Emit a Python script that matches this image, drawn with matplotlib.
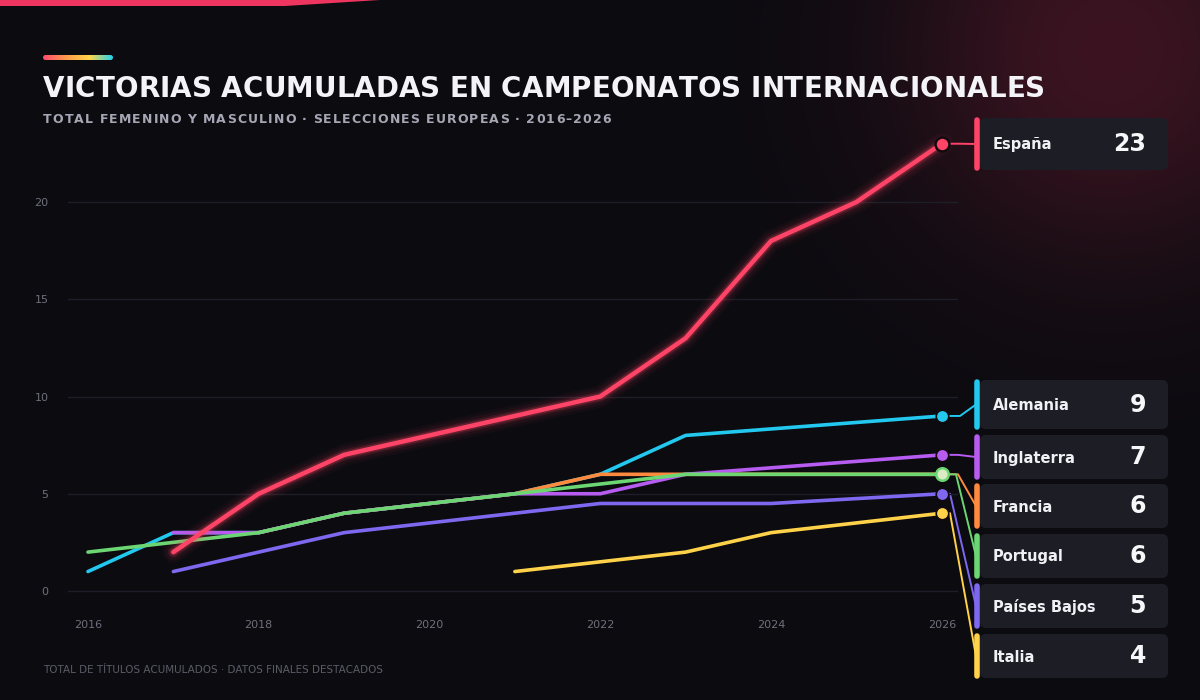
import numpy as np
import matplotlib
matplotlib.use("Agg")
import matplotlib.pyplot as plt
from matplotlib.patches import FancyBboxPatch, Polygon
from matplotlib.colors import LinearSegmentedColormap

nan = np.nan

# datos (valores acumulados por año, nan = sin dato)
years = [2016, 2017, 2018, 2019, 2020, 2021, 2022, 2023, 2024, 2025, 2026]
espana = [nan, 2, 5, 7, 8, 9, 10, 13, 18, 20, 23]
alemania = [1, 3, 3, 4, nan, 5, 6, 8, nan, nan, 9]
inglaterra = [nan, 3, 3, 4, nan, 5, 5, 6, nan, nan, 7]
francia = [nan, nan, 3, 4, nan, 5, 6, 6, 6, 6, 6]
portugal = [2, nan, 3, 4, nan, 5, nan, 6, 6, 6, 6]
paises_bajos = [nan, 1, 2, 3, nan, 4, 4.5, 4.5, 4.5, nan, 5]
italia = [nan, nan, nan, nan, nan, 1, nan, 2, 3, nan, 4]

names = ["España", "Alemania", "Inglaterra", "Francia", "Portugal", "Países Bajos", "Italia"]
series = [espana, alemania, inglaterra, francia, portugal, paises_bajos, italia]
colors = ["#ff4467", "#22c8ee", "#b65cf0", "#ff8a3d", "#6cd672", "#7e68f0", "#ffd24a"]
zorders = [10, 3, 5, 4, 7, 6, 6]

title = "VICTORIAS ACUMULADAS EN CAMPEONATOS INTERNACIONALES"
subtitle = "TOTAL FEMENINO Y MASCULINO · SELECCIONES EUROPEAS · 2016–2026"
footer = "TOTAL DE TÍTULOS ACUMULADOS · DATOS FINALES DESTACADOS"

BG = "#0b0b10"
fig = plt.figure(figsize=(12, 7), dpi=100, facecolor=BG)

# fondo en pixeles
bg = fig.add_axes([0, 0, 1, 1], zorder=0)
bg.axis("off")
yy, xx = np.mgrid[0:700, 0:1200]
r = np.sqrt((xx - 1110) ** 2 + (yy - 50) ** 2)
glow = np.exp(-(r / 210.0) ** 2)
base = np.array([11, 11, 16]) / 255.0
red = np.array([60, 20, 33]) / 255.0
img = base[None, None, :] * (1 - glow[..., None]) + red[None, None, :] * glow[..., None]
bg.imshow(img, extent=(0, 1200, 700, 0), aspect="auto", zorder=0, interpolation="bilinear")

# barra superior rosa
bg.add_patch(Polygon([(0, 0), (380, 0), (285, 6), (0, 6)], closed=True,
                     facecolor="#ee3560", edgecolor="none", zorder=1))

# barrita degradada
grad = np.linspace(0, 1, 200)[None, :]
cmap = LinearSegmentedColormap.from_list("g", ["#ff4d6d", "#ff9b4a", "#ffd54a", "#22d3ee"])
gim = bg.imshow(grad, extent=(43, 113, 60, 55), cmap=cmap, aspect="auto", zorder=2)
clip = FancyBboxPatch((43, 55), 70, 5, boxstyle="round,pad=0,rounding_size=2.5",
                      transform=bg.transData, facecolor="none", edgecolor="none")
bg.add_patch(clip)
gim.set_clip_path(clip)

bg.set_xlim(0, 1200)
bg.set_ylim(700, 0)

renderer = fig.canvas.get_renderer()


def spaced_text(x, y, s, spacing, **kw):
    inv = bg.transData.inverted()
    for ch in s:
        t = bg.text(x, y, ch, **kw)
        bb = t.get_window_extent(renderer=renderer)
        w = inv.transform((bb.x1, 0))[0] - inv.transform((bb.x0, 0))[0]
        if ch == " ":
            w = kw.get("fontsize", 10) * 100 / 72 * 0.318
        x += w + spacing


spaced_text(43, 97, title, 0.15, fontsize=20, fontweight="bold", color="#f4f4f8",
            va="baseline", zorder=3)
spaced_text(43, 123, subtitle, 1.15, fontsize=9, fontweight="bold", color="#a6a6b4",
            va="baseline", zorder=3)
bg.text(43, 673, footer, fontsize=7.5, color="#5c5c68", va="baseline", zorder=3)

# eje principal
ax = fig.add_axes([68 / 1200, (700 - 604.6) / 700, 890 / 1200, 470.6 / 700], zorder=2)
ax.set_facecolor("none")
ax.set_xlim(2015.766, 2026.19)
ax.set_ylim(-0.7, 23.5)
for s in ax.spines.values():
    s.set_visible(False)
ax.set_yticks([0, 5, 10, 15, 20])
ax.set_xticks([2016, 2018, 2020, 2022, 2024, 2026])
ax.tick_params(axis="both", length=0, labelsize=8, labelcolor="#70707c")
ax.tick_params(axis="x", pad=11)
ax.tick_params(axis="y", pad=14)
ax.grid(axis="y", color="#1e1e28", linewidth=1)
ax.set_axisbelow(True)

yrs = np.array(years)
for name, vals, col, z in zip(names, series, colors, zorders):
    v = np.array(vals, dtype=float)
    ok = ~np.isnan(v)
    if name == "España":
        for lw, a in [(16, 0.04), (12, 0.06), (8, 0.12), (5.5, 0.22)]:
            ax.plot(yrs[ok], v[ok], color=col, lw=lw, alpha=a, solid_capstyle="round", zorder=z)
        ax.plot(yrs[ok], v[ok], color=col, lw=3.2, solid_capstyle="round", zorder=z)
    else:
        ax.plot(yrs[ok], v[ok], color=col, lw=2.6, solid_capstyle="round", zorder=z)

# etiquetas a la derecha (posiciones de maquetación en pixeles)
label_top = [118, 380, 435, 484, 534, 584, 634]
label_h = [52, 49, 44, 44, 44, 44, 44]
bend_x = [960, 960, 958, 958, 956, 950, 950]
inv = bg.transData.inverted()
for i, (name, vals, col) in enumerate(zip(names, series, colors)):
    last = [v for v in vals if not np.isnan(v)][-1]
    px, py = inv.transform(ax.transData.transform((years[-1], last)))
    top = label_top[i]
    h = label_h[i]
    cy = top + h / 2
    bg.plot([px, bend_x[i], 976], [py, py, cy], color=col, lw=1.4, zorder=2)
    box = FancyBboxPatch((980, top), 188, h, boxstyle="round,pad=0,rounding_size=6",
                         facecolor="#1d1d25", edgecolor="none", zorder=2)
    bg.add_patch(box)
    bg.plot([977, 977], [top + 2, top + h - 2], color=col, lw=4, solid_capstyle="round", zorder=3)
    bg.text(993, cy + 1, name, fontsize=10.5, fontweight="bold", color="#f0f0f5",
            va="center", ha="left", zorder=4)
    bg.text(1146, cy, "%d" % last, fontsize=17,
            fontweight="bold", color="#f7f7fa", va="center", ha="right", zorder=4)
    # punto final
    if name == "Portugal":
        ax.plot(years[-1], last, "o", ms=9, mfc="#dcebc4", mec=col, mew=1.8, zorder=12, clip_on=False)
    elif name == "Francia":
        pass
    else:
        ax.plot(years[-1], last, "o", ms=10 if i == 0 else 9, mfc=col, mec="#120a0e",
                mew=1.8 if i == 0 else 1.2, zorder=12, clip_on=False)

fig.savefig("out.png", dpi=100, facecolor=BG)
